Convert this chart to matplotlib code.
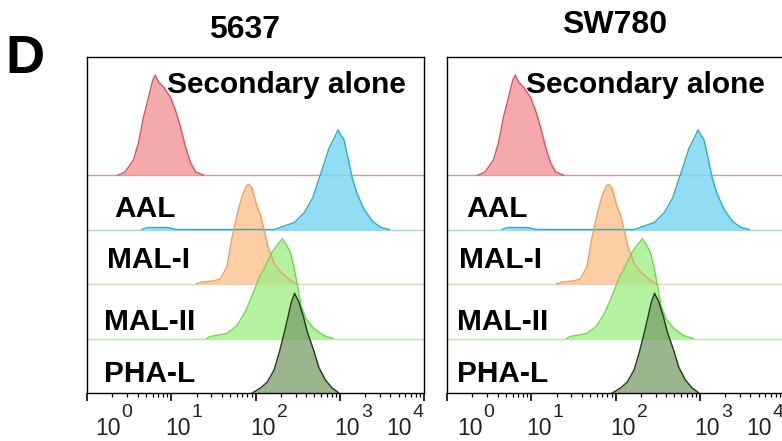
#!/usr/bin/env python3
"""Lectin flow cytometry overlays (panel D) for 5637 and SW780 cells."""
import matplotlib
matplotlib.use("Agg")
import matplotlib.pyplot as plt
import matplotlib.ticker as mticker
import matplotlib.transforms as mtransforms
import numpy as np

plt.rcParams["font.family"] = ["Liberation Sans", "DejaVu Sans"]

CELL_LINES = ["5637", "SW780"]
ROWS = ["Secondary alone", "AAL", "MAL-I", "MAL-II", "PHA-L"]

# traces: log10(fluorescence) and % of mode
# (the SW780 panel reads the same within pixel precision)
SEC_X = [0.37, 0.45, 0.55, 0.61, 0.67, 0.73, 0.78, 0.81, 0.85, 0.91, 0.99, 1.05, 1.11, 1.17, 1.23, 1.29, 1.38]
SEC_Y = [0, 3, 15, 32, 58, 78, 95, 100, 93, 88, 78, 65, 48, 28, 12, 3, 0]

AAL_X = [0.65, 0.72, 0.95, 1.07, 2.22, 2.46, 2.58, 2.68, 2.75, 2.81, 2.87, 2.93, 2.98, 3.01, 3.05,
         3.10, 3.15, 3.21, 3.29, 3.39, 3.49, 3.59]
AAL_Y = [0, 2, 2, 0, 0, 7, 17, 32, 50, 65, 81, 91, 100, 95, 90, 71, 51, 35, 20, 8, 2, 0]

MAL1_X = [1.30, 1.36, 1.50, 1.58, 1.66, 1.72, 1.78, 1.84, 1.89, 1.92, 1.96, 2.01, 2.06, 2.10, 2.15,
          2.22, 2.30, 2.42, 2.50]
MAL1_Y = [0, 2, 3, 5, 17, 46, 69, 88, 98, 100, 96, 80, 69, 55, 37, 21, 12, 3, 0]

MAL2_X = [1.42, 1.46, 1.66, 1.78, 1.88, 1.96, 2.04, 2.12, 2.20, 2.27, 2.32, 2.38, 2.42, 2.46, 2.50,
          2.54, 2.60, 2.69, 2.81, 2.92]
MAL2_Y = [0, 2, 5, 13, 27, 43, 60, 73, 87, 95, 100, 92, 85, 70, 52, 33, 20, 10, 3, 0]

PHAL_X = [1.96, 2.06, 2.14, 2.22, 2.28, 2.34, 2.385, 2.425, 2.464, 2.516, 2.57, 2.62, 2.69, 2.75,
          2.83, 2.91, 2.99]
PHAL_Y = [0, 5, 11, 23, 40, 60, 76, 91, 100, 91, 76, 60, 43, 26, 13, 5, 0]

TRACES = {
    "Secondary alone": (SEC_X, SEC_Y),
    "AAL": (AAL_X, AAL_Y),
    "MAL-I": (MAL1_X, MAL1_Y),
    "MAL-II": (MAL2_X, MAL2_Y),
    "PHA-L": (PHAL_X, PHAL_Y),
}

TICK_VALUES = [1, 10, 100, 1000, 10000]
TICK_EXPONENTS = ["0", "1", "2", "3", "4"]

# style: (fill, edge, baseline colour, fill alpha)
STYLE = {
    "Secondary alone": ("#f59a9e", "#cf5864", "#c99aa0", 0.85),
    "AAL": ("#7fd8f2", "#33abc6", "#9fd8e2", 0.85),
    "MAL-I": ("#fdc596", "#e3a264", "#ead2b4", 0.85),
    "MAL-II": ("#a2ee88", "#72d455", "#bde8ae", 0.8),
    "PHA-L": ("#7a9e68", "#1e3a1a", "#1e3a1a", 0.75),
}
OFFSET = {"Secondary alone": 4, "AAL": 3, "MAL-I": 2, "MAL-II": 1, "PHA-L": 0}
PEAK_H = 1.83  # row spacing = 1

LABEL_Y = {"Secondary alone": 5.50, "AAL": 3.23, "MAL-I": 2.29, "MAL-II": 1.156, "PHA-L": 0.20}
LABEL_X = {
    "5637": {"Secondary alone": 0.238, "AAL": 0.080, "MAL-I": 0.060, "MAL-II": 0.051, "PHA-L": 0.051},
    "SW780": {"Secondary alone": 0.235, "AAL": 0.057, "MAL-I": 0.037, "MAL-II": 0.031, "PHA-L": 0.031},
}

fig = plt.figure(figsize=(7.82, 4.41), dpi=100)
W, H = 782.0, 441.0
axes_px = {"5637": (87, 337), "SW780": (447, 337)}
title_pos = {"5637": (245, 38), "SW780": (615, 33)}
# start of each "10" relative to its tick, px
tick_shift = {
    "5637": [8, -6, -5, -5, -38],
    "SW780": [10, -5, -5, -5, -38],
}

for cell in CELL_LINES:
    left, width = axes_px[cell]
    ax = fig.add_axes([left / W, 48 / H, width / W, 336 / H])
    ax.set_xscale("log")
    ax.set_xlim(1, 1e4)
    ax.set_ylim(0, 336 / 54.5)

    for row in ROWS:
        xs, ys = TRACES[row]
        fc, ec, bc, alpha = STYLE[row]
        base = OFFSET[row]
        x = 10 ** np.array(xs)
        y = base + np.array(ys) / 100.0 * PEAK_H
        if base > 0:
            ax.axhline(base, color=bc, lw=1.0, zorder=1)
        ax.fill_between(x, base, y, color=fc, alpha=alpha, lw=0, zorder=2)
        ax.plot(x, y, color=ec, lw=1.0, zorder=3)

    for row in ROWS:
        ax.text(LABEL_X[cell][row], LABEL_Y[row], row, transform=ax.get_yaxis_transform(),
                fontsize=21.5, fontweight="bold", ha="left", va="baseline", zorder=5)

    ax.set_yticks([])
    ax.set_xticks(TICK_VALUES)
    ax.xaxis.set_minor_locator(mticker.LogLocator(base=10, subs=np.arange(2, 10), numticks=20))
    ax.set_xticklabels([])
    ax.xaxis.set_minor_formatter(mticker.NullFormatter())
    ax.tick_params(axis="x", which="major", direction="out", length=5.5, width=1.2)
    ax.tick_params(axis="x", which="minor", direction="out", length=3, width=0.9)
    for sp in ax.spines.values():
        sp.set_linewidth(1.0)

    # tick labels drawn as "10" plus a raised exponent
    blend = mtransforms.blended_transform_factory(ax.transData, ax.transAxes)
    for val, expo, dx in zip(TICK_VALUES, TICK_EXPONENTS, tick_shift[cell]):
        tr = blend + mtransforms.ScaledTranslation(dx / 100.0, 0, fig.dpi_scale_trans)
        ax.text(val, -42 / 336, "10", transform=tr, ha="left", va="baseline",
                fontsize=16.5, color="#222222", clip_on=False)
        tr2 = blend + mtransforms.ScaledTranslation((dx + 26.5) / 100.0, 0, fig.dpi_scale_trans)
        ax.text(val, -24 / 336, expo, transform=tr2, ha="left", va="baseline",
                fontsize=14, color="#222222", clip_on=False)

    tx, ty = title_pos[cell]
    fig.text(tx / W, 1 - ty / H, cell, fontsize=23, fontweight="bold", ha="center", va="baseline")

fig.text(5 / W, 1 - 73 / H, "D", fontsize=39, fontweight="bold", ha="left", va="baseline")

fig.savefig("out.png", dpi=100)
